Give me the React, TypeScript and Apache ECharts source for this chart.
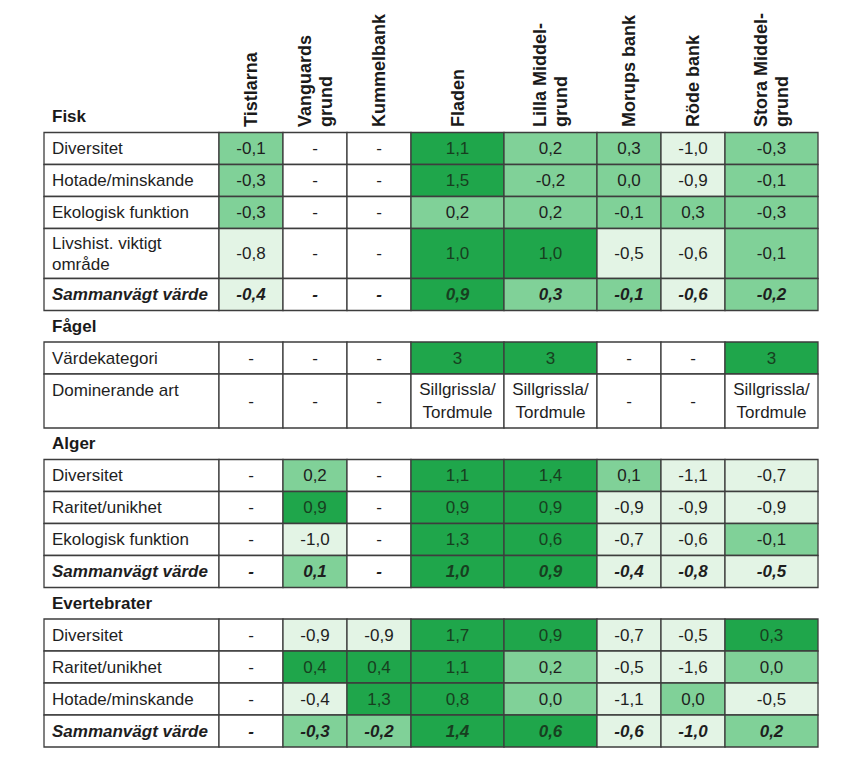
import React, { useEffect, useRef } from "react";
import * as echarts from "echarts";

// ---------- DATA ----------
const columns = [
  "Tistlarna",
  "Vanguards\ngrund",
  "Kummelbank",
  "Fladen",
  "Lilla Middel-\ngrund",
  "Morups bank",
  "Röde bank",
  "Stora Middel-\ngrund",
];

const sectionTitles = ["Fisk", "Fågel", "Alger", "Evertebrater"];

const fiskRows = ["Diversitet", "Hotade/minskande", "Ekologisk funktion", "Livshist. viktigt\nområde", "Sammanvägt värde"];
const fiskValues: (number | null)[][] = [
  [-0.1, null, null, 1.1, 0.2, 0.3, -1.0, -0.3],
  [-0.3, null, null, 1.5, -0.2, 0.0, -0.9, -0.1],
  [-0.3, null, null, 0.2, 0.2, -0.1, 0.3, -0.3],
  [-0.8, null, null, 1.0, 1.0, -0.5, -0.6, -0.1],
  [-0.4, null, null, 0.9, 0.3, -0.1, -0.6, -0.2],
];
const fiskLevels = [
  [2, 0, 0, 3, 2, 2, 1, 2],
  [2, 0, 0, 3, 2, 2, 1, 2],
  [2, 0, 0, 2, 2, 2, 2, 2],
  [1, 0, 0, 3, 3, 1, 1, 2],
  [1, 0, 0, 3, 2, 2, 1, 2],
];

const faagelRows = ["Värdekategori", "Dominerande art"];
const faagelCategory: (number | null)[] = [null, null, null, 3, 3, null, null, 3];
const faagelSpecies: (string | null)[] = [null, null, null, "Sillgrissla/\nTordmule", "Sillgrissla/\nTordmule", null, null, "Sillgrissla/\nTordmule"];
const faagelLevels = [
  [0, 0, 0, 3, 3, 0, 0, 3],
  [0, 0, 0, 0, 0, 0, 0, 0],
];

const algerRows = ["Diversitet", "Raritet/unikhet", "Ekologisk funktion", "Sammanvägt värde"];
const algerValues: (number | null)[][] = [
  [null, 0.2, null, 1.1, 1.4, 0.1, -1.1, -0.7],
  [null, 0.9, null, 0.9, 0.9, -0.9, -0.9, -0.9],
  [null, -1.0, null, 1.3, 0.6, -0.7, -0.6, -0.1],
  [null, 0.1, null, 1.0, 0.9, -0.4, -0.8, -0.5],
];
const algerLevels = [
  [0, 2, 0, 3, 3, 2, 1, 1],
  [0, 3, 0, 3, 3, 1, 1, 1],
  [0, 1, 0, 3, 3, 1, 1, 2],
  [0, 2, 0, 3, 3, 1, 1, 1],
];

const evertRows = ["Diversitet", "Raritet/unikhet", "Hotade/minskande", "Sammanvägt värde"];
const evertValues: (number | null)[][] = [
  [null, -0.9, -0.9, 1.7, 0.9, -0.7, -0.5, 0.3],
  [null, 0.4, 0.4, 1.1, 0.2, -0.5, -1.6, 0.0],
  [null, -0.4, 1.3, 0.8, 0.0, -1.1, 0.0, -0.5],
  [null, -0.3, -0.2, 1.4, 0.6, -0.6, -1.0, 0.2],
];
const evertLevels = [
  [0, 1, 1, 3, 3, 1, 1, 3],
  [0, 3, 3, 3, 2, 1, 1, 2],
  [0, 1, 3, 3, 2, 1, 2, 1],
  [0, 2, 2, 3, 3, 1, 1, 2],
];

// ---------- LAYOUT / STYLE ----------
const COL_W = [175, 64, 64, 64, 93, 93, 64, 64, 93];
const ROW_HEIGHTS = [
  [32, 32, 32, 50, 32],
  [32, 54],
  [32, 32, 32, 32],
  [32, 32, 32, 32],
];
const TITLE_BAND = 31.5;
const START_Y = 101;
const HEADER_BASE_Y = 127;
const LEVEL_COLORS = ["#ffffff", "#e3f4e5", "#80d198", "#1fa64b"];
const FONT = "'Liberation Sans', Arial, Helvetica, sans-serif";

const fmt = (v: number | null, dec = 1) => (v === null ? "-" : v.toFixed(dec).replace(".", ","));

type Cell = {
  box: number[];
  fill: string;
  text: string;
  align: "left" | "center";
  vTop: boolean;
  bold: boolean;
  italic: boolean;
  dark: boolean;
  lineHeight: number;
};

function buildSections() {
  const sections: { title: string; rows: { label: string; texts: string[]; levels: number[]; summary: boolean; labelTop: boolean }[] }[] = [
    {
      title: sectionTitles[0],
      rows: fiskRows.map((label, r) => ({
        label,
        texts: fiskValues[r].map((v) => fmt(v)),
        levels: fiskLevels[r],
        summary: label === "Sammanvägt värde",
        labelTop: false,
      })),
    },
    {
      title: sectionTitles[1],
      rows: [
        { label: faagelRows[0], texts: faagelCategory.map((v) => fmt(v, 0)), levels: faagelLevels[0], summary: false, labelTop: false },
        { label: faagelRows[1], texts: faagelSpecies.map((v) => (v === null ? "-" : v)), levels: faagelLevels[1], summary: false, labelTop: true },
      ],
    },
    {
      title: sectionTitles[2],
      rows: algerRows.map((label, r) => ({
        label,
        texts: algerValues[r].map((v) => fmt(v)),
        levels: algerLevels[r],
        summary: label === "Sammanvägt värde",
        labelTop: false,
      })),
    },
    {
      title: sectionTitles[3],
      rows: evertRows.map((label, r) => ({
        label,
        texts: evertValues[r].map((v) => fmt(v)),
        levels: evertLevels[r],
        summary: label === "Sammanvägt värde",
        labelTop: false,
      })),
    },
  ];
  return sections;
}

function buildLayout() {
  const sections = buildSections();
  const colEdges = [0];
  COL_W.forEach((w) => colEdges.push(colEdges[colEdges.length - 1] + w));
  const cells: Cell[] = [];
  const titles: { x: number; y: number; text: string }[] = [];
  let y = START_Y;
  sections.forEach((sec, s) => {
    titles.push({ x: 8, y: y + TITLE_BAND / 2, text: sec.title });
    y += TITLE_BAND;
    sec.rows.forEach((row, r) => {
      const h = ROW_HEIGHTS[s][r];
      // label cell
      cells.push({
        box: [colEdges[0], y, colEdges[1], y + h],
        fill: "#ffffff",
        text: row.label,
        align: "left",
        vTop: row.labelTop,
        bold: row.summary,
        italic: row.summary,
        dark: false,
        lineHeight: 21,
      });
      row.texts.forEach((t, c) => {
        const lvl = row.levels[c];
        cells.push({
          box: [colEdges[c + 1], y, colEdges[c + 2], y + h],
          fill: LEVEL_COLORS[lvl],
          text: t,
          align: "center",
          vTop: false,
          bold: row.summary,
          italic: row.summary,
          dark: lvl === 3,
          lineHeight: 23,
        });
      });
      y += h;
    });
  });
  const headers = columns.map((name, c) => ({ x: (colEdges[c + 1] + colEdges[c + 2]) / 2, y: HEADER_BASE_Y, text: name }));
  return { cells, titles, headers, total: colEdges[colEdges.length - 1] };
}

export default function App() {
  const ref = useRef<HTMLDivElement>(null);
  useEffect(() => {
    if (!ref.current) return;
    const chart = echarts.init(ref.current, undefined, { renderer: "svg" });
    const { cells, titles, headers, total } = buildLayout();

    chart.setOption({
      animation: false,
      backgroundColor: "#ffffff",
      grid: { left: 44, top: 0, width: total, height: 774 },
      xAxis: { type: "value", min: 0, max: total, show: false },
      yAxis: { type: "value", min: 0, max: 774, inverse: true, show: false },
      series: [
        {
          type: "custom",
          coordinateSystem: "cartesian2d",
          data: cells.map((c) => c.box),
          renderItem: (params: any, api: any) => {
            const c = cells[params.dataIndex];
            const p0 = api.coord([api.value(0), api.value(1)]);
            const p1 = api.coord([api.value(2), api.value(3)]);
            const w = p1[0] - p0[0];
            const h = p1[1] - p0[1];
            const tx = c.align === "left" ? p0[0] + 8 : p0[0] + w / 2;
            const ty = c.vTop ? p0[1] + 16 : p0[1] + h / 2;
            return {
              type: "group",
              children: [
                {
                  type: "rect",
                  shape: { x: p0[0], y: p0[1], width: w, height: h },
                  style: { fill: c.fill, stroke: "#3d3d3d", lineWidth: 1.3 },
                },
                {
                  type: "text",
                  x: tx,
                  y: ty,
                  style: {
                    text: c.text,
                    fill: c.dark ? "#173f20" : "#1e1e1e",
                    fontFamily: FONT,
                    fontSize: 17,
                    fontWeight: c.bold ? "bold" : "normal",
                    fontStyle: c.italic ? "italic" : "normal",
                    align: c.align,
                    verticalAlign: "middle",
                    lineHeight: c.lineHeight,
                  },
                },
              ],
            };
          },
        },
        {
          type: "custom",
          coordinateSystem: "cartesian2d",
          data: titles.map((t) => [t.x, t.y]),
          renderItem: (params: any, api: any) => {
            const t = titles[params.dataIndex];
            const p = api.coord([api.value(0), api.value(1)]);
            return {
              type: "text",
              x: p[0],
              y: p[1],
              style: {
                text: t.text,
                fill: "#1a1a1a",
                fontFamily: FONT,
                fontSize: 17,
                fontWeight: "bold",
                align: "left",
                verticalAlign: "middle",
              },
            };
          },
        },
        {
          type: "custom",
          coordinateSystem: "cartesian2d",
          data: headers.map((h) => [h.x, h.y]),
          renderItem: (params: any, api: any) => {
            const hd = headers[params.dataIndex];
            const p = api.coord([api.value(0), api.value(1)]);
            return {
              type: "text",
              x: p[0],
              y: p[1],
              rotation: Math.PI / 2,
              style: {
                text: hd.text,
                fill: "#1a1a1a",
                fontFamily: FONT,
                fontSize: 18,
                fontWeight: "bold",
                align: "left",
                verticalAlign: "middle",
                lineHeight: 21,
              },
            };
          },
        },
      ],
    });
    return () => chart.dispose();
  }, []);
  return <div ref={ref} style={{ position: "fixed", left: 0, top: 0, width: 861, height: 774 }} />;
}
